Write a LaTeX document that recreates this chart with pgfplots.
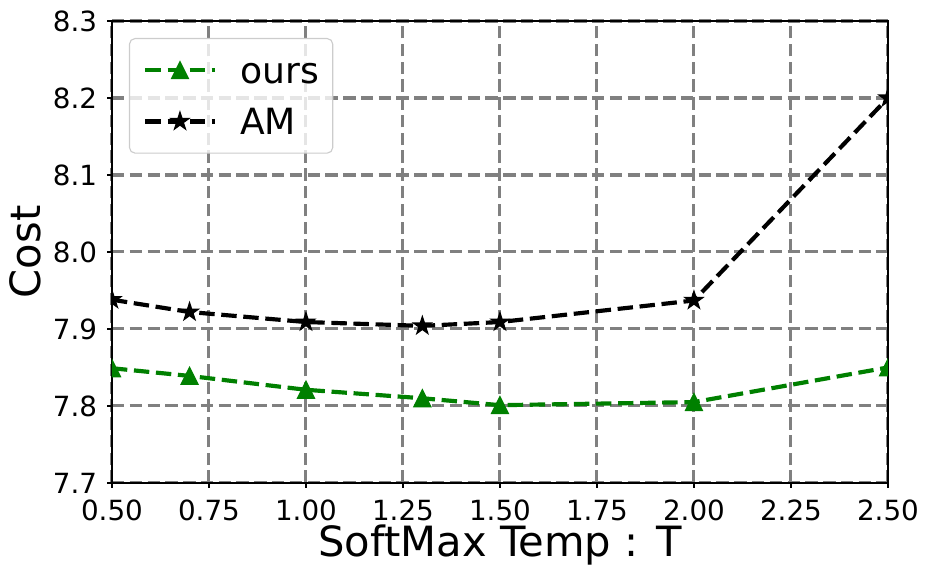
\documentclass[border=0pt]{standalone}
\usepackage{fontspec}
\setmainfont{DejaVu Sans}
\usepackage{pgfplots}
\pgfplotsset{compat=1.18}
\definecolor{mgreen}{RGB}{0,128,0}
\definecolor{mgrid}{RGB}{128,128,128}
\definecolor{mframe}{RGB}{204,204,204}

% matplotlib-like markers
\pgfdeclareplotmark{mtri}{%
  \pgfpathmoveto{\pgfqpoint{0pt}{\pgfplotmarksize}}%
  \pgfpathlineto{\pgfqpoint{-\pgfplotmarksize}{-\pgfplotmarksize}}%
  \pgfpathlineto{\pgfqpoint{\pgfplotmarksize}{-\pgfplotmarksize}}%
  \pgfpathclose
  \pgfusepathqfillstroke}
\pgfdeclareplotmark{mstar}{%
  \pgfpathmoveto{\pgfpointpolar{90}{\pgfplotmarksize}}%
  \pgfpathlineto{\pgfpointpolar{126}{0.382\pgfplotmarksize}}%
  \pgfpathlineto{\pgfpointpolar{162}{\pgfplotmarksize}}%
  \pgfpathlineto{\pgfpointpolar{198}{0.382\pgfplotmarksize}}%
  \pgfpathlineto{\pgfpointpolar{234}{\pgfplotmarksize}}%
  \pgfpathlineto{\pgfpointpolar{270}{0.382\pgfplotmarksize}}%
  \pgfpathlineto{\pgfpointpolar{306}{\pgfplotmarksize}}%
  \pgfpathlineto{\pgfpointpolar{342}{0.382\pgfplotmarksize}}%
  \pgfpathlineto{\pgfpointpolar{18}{\pgfplotmarksize}}%
  \pgfpathlineto{\pgfpointpolar{54}{0.382\pgfplotmarksize}}%
  \pgfpathclose
  \pgfusepathqfillstroke}

\begin{document}
\begin{tikzpicture}
\useasboundingbox (-80.6pt,-68.4pt) rectangle (586.8pt,347.7pt);
\begin{axis}[
  scale only axis,
  width=558.7pt, height=332.6pt,
  xmin=0.5, xmax=2.5, ymin=7.7, ymax=8.3,
  xtick={0.5,0.75,...,2.5},
  ytick={7.7,7.8,...,8.3},
  clip marker paths=true,
  axis line style={black, line width=0.8pt},
  tick align=outside,
  major tick length=3.5pt,
  tick style={black, line width=0.8pt},
  xtick pos=bottom, ytick pos=left,
  grid=major,
  major grid style={mgrid, line width=2.2pt, dash pattern=on 9pt off 3.8pt},
  /pgf/number format/assume math mode=true,
  ticklabel style={font=\fontsize{20}{20}\selectfont},
  xticklabel style={/pgf/number format/fixed, /pgf/number format/fixed zerofill,
    /pgf/number format/precision=2, anchor=north, inner sep=0pt, yshift=-8.6pt},
  yticklabel style={/pgf/number format/fixed, /pgf/number format/fixed zerofill,
    /pgf/number format/precision=1, anchor=east, inner sep=0pt, xshift=-7pt},
  xlabel={SoftMax Temp : T},
  ylabel={Cost},
  label style={font=\fontsize{30}{30}\selectfont},
  xlabel style={at={(axis description cs:0.5,-0.134)}, anchor=center},
  ylabel style={at={(axis description cs:-0.111,0.5)}, anchor=center},
  legend cell align=left,
  legend image code/.code={%
    \draw[mark repeat=2, mark phase=2, #1]
      plot coordinates {(0pt,0pt) (24.85pt,0pt) (49.7pt,0pt)};},
  legend style={at={(0.0219,0.9632)}, anchor=north west,
    draw=mframe, line width=0.8pt, rounded corners=4pt,
    fill=white, fill opacity=0.8, draw opacity=1, text opacity=1,
    font=\fontsize{26}{26}\selectfont,
    inner xsep=10pt, inner ysep=7.8pt, row sep=6.9pt,
    nodes={inner sep=0pt, text height=24.5pt, text depth=5.5pt},
    /tikz/every odd column/.append style={column sep=17pt}},
]
\addplot[mgreen, line width=3pt, dash pattern=on 11.1pt off 4.8pt,
  mark=mtri, mark size=6pt,
  mark options={solid, fill=mgreen, line width=1pt, fill opacity=1}]
  coordinates {(0.5,7.849) (0.7,7.839) (1.0,7.821) (1.3,7.810) (1.5,7.801) (2.0,7.805) (2.5,7.850)};
\addlegendentry{ours}
\addplot[black, line width=3pt, dash pattern=on 11.1pt off 4.8pt,
  mark=mstar, mark size=6.5pt,
  mark options={solid, fill=black, line width=1pt, fill opacity=1}]
  coordinates {(0.5,7.938) (0.7,7.922) (1.0,7.909) (1.3,7.904) (1.5,7.909) (2.0,7.937) (2.5,8.200)};
\addlegendentry{AM}
\end{axis}
\end{tikzpicture}
\end{document}
